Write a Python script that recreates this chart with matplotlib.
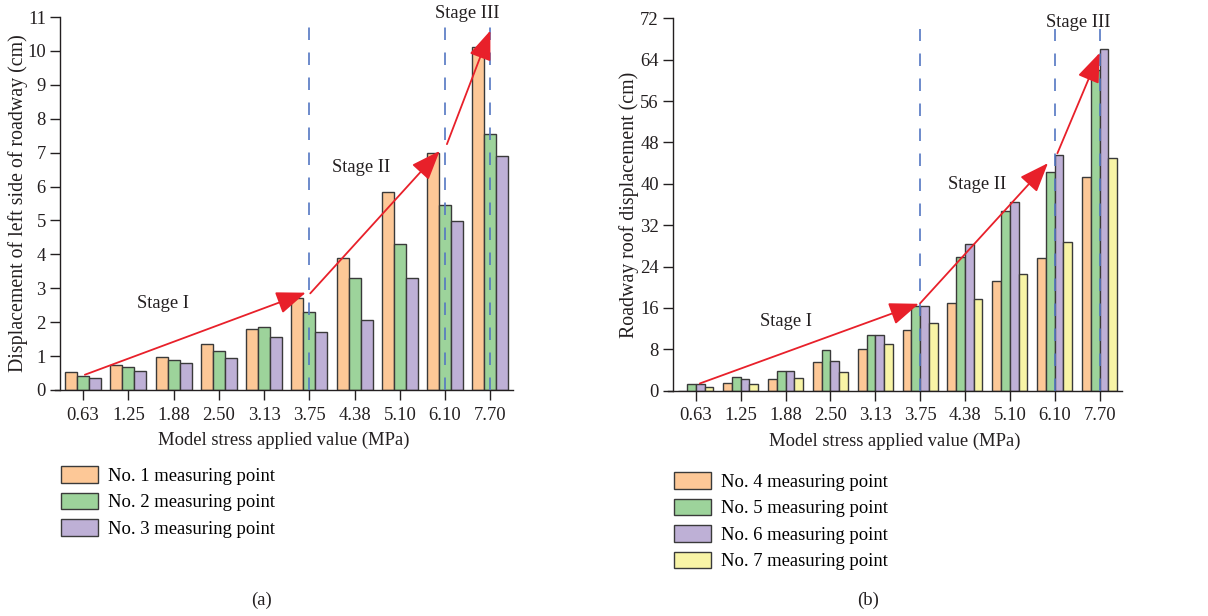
import matplotlib.pyplot as plt
from matplotlib.patches import Patch

plt.rcParams['font.family'] = ['Liberation Serif', 'DejaVu Serif']

# stress levels on the x axis
stress = ['0.63', '1.25', '1.88', '2.50', '3.13', '3.75', '4.38', '5.10', '6.10', '7.70']

# (a) left side of roadway, cm
left_p1 = [0.53, 0.75, 0.97, 1.36, 1.80, 2.71, 3.90, 5.83, 7.00, 10.12]
left_p2 = [0.41, 0.68, 0.87, 1.16, 1.87, 2.29, 3.31, 4.31, 5.46, 7.54]
left_p3 = [0.36, 0.56, 0.79, 0.93, 1.57, 1.72, 2.07, 3.31, 4.98, 6.91]

# (b) roadway roof, cm
roof_p4 = [0.0, 1.5, 2.2, 5.6, 8.1, 11.7, 16.9, 21.3, 25.7, 41.4]
roof_p5 = [1.35, 2.6, 3.8, 7.9, 10.7, 16.3, 25.9, 34.7, 42.2, 62.0]
roof_p6 = [1.3, 2.3, 3.9, 5.8, 10.7, 16.3, 28.4, 36.5, 45.5, 66.0]
roof_p7 = [0.7, 1.35, 2.5, 3.7, 9.1, 13.0, 17.8, 22.5, 28.8, 44.9]

# stage boundaries (category index) and arrow paths (index, value)
stage_idx = [5, 8, 9]
left_arrows = [[(0.04, 0.45), (4.92, 2.87)],
               [(5.02, 2.85), (7.88, 7.05)],
               [(8.04, 7.25), (9.0, 10.6)]]
roof_arrows = [[(0.09, 1.4), (4.97, 16.8)],
               [(5.0, 16.9), (7.85, 44.0)],
               [(8.06, 45.9), (9.0, 65.3)]]
left_stage_txt = [(1.76, 2.55, 'Stage I'), (6.14, 6.57, 'Stage II'), (8.5, 11.1, 'Stage III')]
roof_stage_txt = [(2.02, 13.3, 'Stage I'), (6.27, 39.8, 'Stage II'), (8.52, 71.2, 'Stage III')]

c_orange = '#FDC897'
c_green = '#9DD39B'
c_purple = '#BEB0D6'
c_yellow = '#F8F4A6'
edge = '#3a3a3a'
ink = '#231f20'
fs = 13.4

fig = plt.figure(figsize=(12.08, 6.16), dpi=100)
ax1 = fig.add_axes([55/1208, 1-390/616, (513-55)/1208, (390-17)/616])
ax2 = fig.add_axes([668/1208, 1-390.7/616, (1122-668)/1208, (390.7-18.3)/616])


def draw_panel(ax, series, colors, width, ymax, ystep, ylabel, arrows, stage_txt, vtop, ypad):
    n = len(series)
    x = list(range(len(stress)))
    for k, (vals, col) in enumerate(zip(series, colors)):
        off = (k - (n - 1) / 2) * width
        ax.bar([xi + off for xi in x], vals, width, color=col, edgecolor=edge, linewidth=1.0, zorder=2)
    ax.vlines(stage_idx, 0, vtop, colors='#5477C2', linewidth=1.2,
              linestyles=(0, (7.5, 7.5)), zorder=3)
    for (x0, y0), (x1, y1) in arrows:
        ax.annotate('', xy=(x1, y1), xytext=(x0, y0),
                    arrowprops=dict(arrowstyle='-|>,head_length=1.3,head_width=0.5',
                                    color='#E8202A', lw=1.3, mutation_scale=14,
                                    shrinkA=0, shrinkB=0), zorder=4)
    for tx, ty, t in stage_txt:
        ax.text(tx, ty, t, ha='center', va='center', fontsize=fs, color=ink,
                clip_on=False)
    ax.set_xlim(-0.62, 9.5)
    ax.set_ylim(0, ymax)
    ax.spines['left'].set_position(('data', -0.5))
    ax.spines['top'].set_visible(False)
    ax.spines['right'].set_visible(False)
    for s in ('left', 'bottom'):
        ax.spines[s].set_color(ink)
        ax.spines[s].set_linewidth(1.0)
    ax.set_xticks(x)
    ax.set_xticklabels(stress)
    ax.set_yticks(list(range(0, ymax + 1, ystep)))
    ax.tick_params(axis='both', labelsize=fs, colors=ink, length=7, width=1.0,
                   direction='out')
    ax.tick_params(axis='x', pad=5)
    ax.set_xlabel('Model stress applied value (MPa)', fontsize=fs, color=ink, labelpad=6)
    ax.set_ylabel(ylabel, fontsize=14.3, color=ink, labelpad=ypad)


draw_panel(ax1, [left_p1, left_p2, left_p3], [c_orange, c_green, c_purple], 0.265,
           11, 1, 'Displacement of left side of roadway (cm)', left_arrows, left_stage_txt, 10.7, -1)
draw_panel(ax2, [roof_p4, roof_p5, roof_p6, roof_p7], [c_orange, c_green, c_purple, c_yellow], 0.195,
           72, 8, 'Roadway roof displacement (cm)', roof_arrows, roof_stage_txt, 69.9, 1)

h1 = [Patch(facecolor=c, edgecolor=edge, linewidth=1.0) for c in (c_orange, c_green, c_purple)]
l1 = ['No. 1 measuring point', 'No. 2 measuring point', 'No. 3 measuring point']
fig.legend(h1, l1, loc='upper left', bbox_to_anchor=(61/1208, 1-466/616), frameon=False,
           fontsize=fs, handlelength=2.0, handleheight=1.0, handletextpad=0.5,
           labelspacing=0.42, borderpad=0, borderaxespad=0)

h2 = [Patch(facecolor=c, edgecolor=edge, linewidth=1.0) for c in (c_orange, c_green, c_purple, c_yellow)]
l2 = ['No. 4 measuring point', 'No. 5 measuring point', 'No. 6 measuring point', 'No. 7 measuring point']
fig.legend(h2, l2, loc='upper left', bbox_to_anchor=(674/1208, 1-472/616), frameon=False,
           fontsize=fs, handlelength=2.0, handleheight=1.0, handletextpad=0.5,
           labelspacing=0.42, borderpad=0, borderaxespad=0)

fig.text(261/1208, 1-600/616, '(a)', ha='center', va='center', fontsize=fs, color=ink)
fig.text(868/1208, 1-600/616, '(b)', ha='center', va='center', fontsize=fs, color=ink)

fig.savefig('out.png', dpi=100)
